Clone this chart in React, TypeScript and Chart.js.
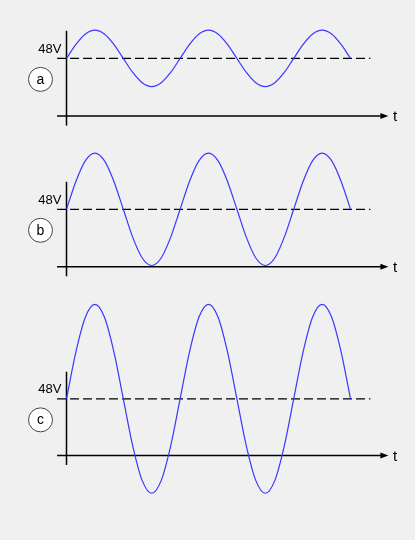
import React, { useEffect, useRef } from "react";
import { Chart, registerables } from "chart.js";

Chart.register(...registerables);

// ---- data ----
const TIME = [0, 1, 2, 3, 4, 5, 6, 7, 8, 9, 10, 11, 12, 13, 14, 15, 16, 17, 18, 19, 20, 21, 22, 23, 24, 25, 26, 27, 28, 29, 30];
const VOLT_A = [48, 59.7, 68.3, 71.5, 68.3, 59.7, 48, 36.3, 27.7, 24.5, 27.7, 36.3, 48, 59.7, 68.3, 71.5, 68.3, 59.7, 48, 36.3, 27.7, 24.5, 27.7, 36.3, 48, 59.7, 68.3, 71.5, 68.3, 59.7, 48];
const VOLT_B = [48, 71.5, 88.7, 95, 88.7, 71.5, 48, 24.5, 7.3, 1, 7.3, 24.5, 48, 71.5, 88.7, 95, 88.7, 71.5, 48, 24.5, 7.3, 1, 7.3, 24.5, 48, 71.5, 88.7, 95, 88.7, 71.5, 48];
const VOLT_C = [48, 88, 117.3, 128, 117.3, 88, 48, 8, -21.3, -32, -21.3, 8, 48, 88, 117.3, 128, 117.3, 88, 48, 8, -21.3, -32, -21.3, 8, 48, 88, 117.3, 128, 117.3, 88, 48];
const PANEL_LABELS = ["a", "b", "c"];
const BASE_VOLT = 48;
const BASE_LABEL = "48V";
const AXIS_LABEL = "t";
const X_AXIS_START = -1;
const DASH_END = 32.1;
const ARROW_TIP = 34;
const Y_AXIS_MIN = -8;
const Y_AXIS_MAX = 71;

// ---- layout ----
const W = 415;
const Y_AXIS_X = 66.5;
const PX_PER_UNIT = 9.467;
const FONT = '"Liberation Sans", Arial, sans-serif';
const BLUE = "#3838ff";

type PanelProps = { label: string; volts: number[]; top: number; height: number; zeroY: number; ppv: number };

function Panel({ label, volts, top, height, zeroY, ppv }: PanelProps) {
  const ref = useRef<HTMLCanvasElement>(null);
  useEffect(() => {
    if (!ref.current) return;
    const yMax = (zeroY - top) / ppv;
    const yMin = -(top + height - zeroY) / ppv;
    const xMin = -Y_AXIS_X / PX_PER_UNIT;
    const xMax = (W - Y_AXIS_X) / PX_PER_UNIT;

    const decor = {
      id: "decor",
      afterDatasetsDraw(chart: any) {
        const { ctx } = chart;
        const xs = chart.scales.x;
        const ys = chart.scales.y;
        const y0 = ys.getPixelForValue(0);
        const tipX = xs.getPixelForValue(ARROW_TIP);
        ctx.save();
        ctx.fillStyle = "#000";
        ctx.beginPath();
        ctx.moveTo(tipX, y0);
        ctx.lineTo(tipX - 8, y0 - 3);
        ctx.lineTo(tipX - 8, y0 + 3);
        ctx.closePath();
        ctx.fill();

        ctx.font = `15px ${FONT}`;
        ctx.textAlign = "left";
        ctx.textBaseline = "alphabetic";
        ctx.fillText(AXIS_LABEL, tipX + 4.5, y0 + 5);

        const yb = ys.getPixelForValue(BASE_VOLT);
        ctx.font = `13px ${FONT}`;
        ctx.textAlign = "right";
        ctx.fillText(BASE_LABEL, xs.getPixelForValue(0) - 5, yb - 5.5);

        const cx = 40.5;
        const cy = yb + 21;
        ctx.beginPath();
        ctx.arc(cx, cy, 12, 0, Math.PI * 2);
        ctx.fillStyle = "#fff";
        ctx.fill();
        ctx.lineWidth = 1;
        ctx.strokeStyle = "#444";
        ctx.stroke();
        ctx.fillStyle = "#000";
        ctx.font = `14px ${FONT}`;
        ctx.textAlign = "center";
        ctx.textBaseline = "middle";
        ctx.fillText(label, cx, cy + 0.5);
        ctx.restore();
      },
    };

    const chart = new Chart(ref.current, {
      type: "line",
      data: {
        datasets: [
          {
            data: TIME.map((t, i) => ({ x: t, y: volts[i] })),
            borderColor: BLUE,
            borderWidth: 1.2,
            cubicInterpolationMode: "monotone",
            pointRadius: 0,
            fill: false,
          },
          {
            data: [{ x: X_AXIS_START, y: BASE_VOLT }, { x: DASH_END, y: BASE_VOLT }],
            borderColor: "#000",
            borderWidth: 1.2,
            borderDash: [9, 4],
            pointRadius: 0,
          },
          {
            data: [{ x: X_AXIS_START, y: 0 }, { x: ARROW_TIP - 0.8, y: 0 }],
            borderColor: "#000",
            borderWidth: 1.5,
            pointRadius: 0,
          },
          {
            data: [{ x: 0, y: Y_AXIS_MIN }, { x: 0, y: Y_AXIS_MAX }],
            borderColor: "#000",
            borderWidth: 1.5,
            pointRadius: 0,
          },
        ],
      } as any,
      options: {
        animation: false,
        responsive: false,
        events: [],
        layout: { padding: 0 },
        plugins: { legend: { display: false }, tooltip: { enabled: false } },
        scales: {
          x: { type: "linear", min: xMin, max: xMax, display: false },
          y: { type: "linear", min: yMin, max: yMax, display: false },
        },
      } as any,
      plugins: [decor],
    });
    return () => chart.destroy();
  }, []);
  return (
    <canvas
      ref={ref}
      width={W}
      height={height}
      style={{ position: "absolute", left: 0, top, width: W, height }}
    />
  );
}

export default function App() {
  const panels = [
    { label: PANEL_LABELS[0], volts: VOLT_A, top: 0, height: 140, zeroY: 116, ppv: 1.2 },
    { label: PANEL_LABELS[1], volts: VOLT_B, top: 140, height: 150, zeroY: 266.7, ppv: 1.196 },
    { label: PANEL_LABELS[2], volts: VOLT_C, top: 290, height: 230, zeroY: 455.5, ppv: 1.18 },
  ];
  return (
    <div style={{ position: "absolute", left: 0, top: 0, width: W, height: 540, background: "#f0f0f0", overflow: "hidden" }}>
      {panels.map((p) => (
        <Panel key={p.label} {...p} />
      ))}
    </div>
  );
}
